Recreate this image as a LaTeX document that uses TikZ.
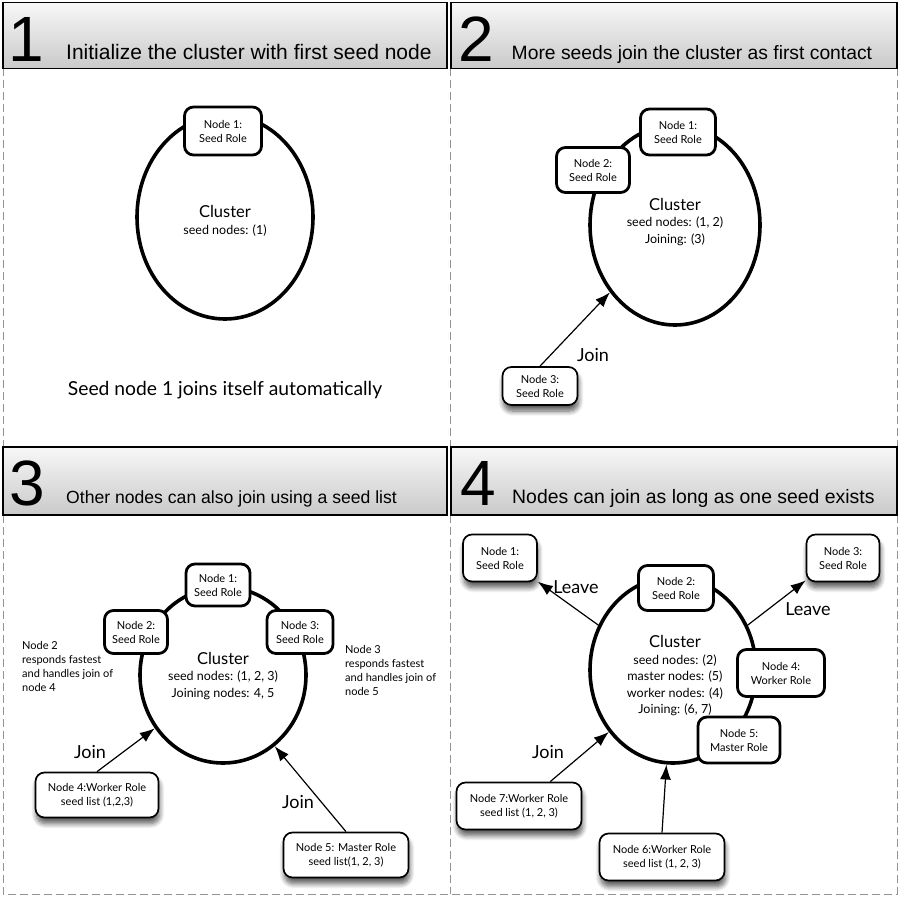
\documentclass[tikz,border=0pt]{standalone}
\usepackage{fontspec}
\setmainfont{Lato}
\newfontfamily\headfont{Liberation Sans}
\usetikzlibrary{arrows.meta,shapes.geometric,shadows.blur}
\begin{document}
\begin{tikzpicture}[x=1pt,y=-1pt]
		\tikzset{panelframe/.style = {draw=gray!85,line width=1pt,dash pattern=on 8pt off 4pt}}
		\tikzset{header/.style = {shape=rectangle,draw,line width=1.6pt,top color=gray!6,bottom color=gray!42,minimum height=66pt,inner sep=0pt}}
		\tikzset{bignum/.style = {font=\headfont\fontsize{64}{64}\selectfont,inner sep=0pt,anchor=base west}}
		\tikzset{headtitle/.style = {inner sep=0pt,anchor=base west}}
		\tikzset{cluster/.style = {shape=ellipse,draw,line width=3.6pt,inner sep=0pt}}
		\tikzset{ctext/.style = {align=center,font=\fontsize{12.5}{16.5}\selectfont}}
		\tikzset{member/.style = {shape=rectangle,draw,rounded corners=9pt,line width=2.8pt,fill=white,align=center,font=\fontsize{11}{14}\selectfont,minimum width=75pt,minimum height=46pt}}
		\tikzset{joiner/.style = {member,line width=1.7pt,blur shadow={shadow xshift=1pt,shadow yshift=-6pt,shadow blur radius=5pt,shadow blur steps=8,shadow opacity=65}}}
		\tikzset{sidenote/.style = {align=left,font=\fontsize{11}{14}\selectfont,inner sep=0pt,anchor=west}}
		\tikzset{lbl/.style = {font=\fontsize{18}{20}\selectfont,inner sep=0pt}}
		\tikzset{joinedge/.style = {-{Latex[length=15pt,width=11pt]},line width=1.2pt}}
		\newcommand{\headsize}[1]{\headfont\fontsize{#1}{24}\selectfont}
		\useasboundingbox (0,0) rectangle (900,901);
		% dashed panel borders
		\draw[panelframe] (3,68) -- (3,447);
		\draw[panelframe] (450,68) -- (450,447);
		\draw[panelframe] (897,68) -- (897,447);
		\draw[panelframe] (3,515) -- (3,894) -- (897,894) -- (897,515);
		\draw[panelframe] (450,515) -- (450,894);
		% headers
		\node[header,minimum width=444pt] (h1) at (225,35.5) {};
		\node[header,minimum width=446pt] (h2) at (674,35.5) {};
		\node[header,minimum width=444pt,minimum height=68pt] (h3) at (225,481) {};
		\node[header,minimum width=446pt,minimum height=68pt] (h4) at (674,481) {};
		\node[bignum] (h1num) at (8,62) {1};
		\node[bignum] (h2num) at (458,62) {2};
		\node[bignum] (h3num) at (9,505) {3};
		\node[bignum] (h4num) at (460,505) {4};
		\node[headtitle,font=\headsize{21}] (h1txt) at (66,59.5) {Initialize the cluster with first seed node};
		\node[headtitle,font=\headsize{19.3}] (h2txt) at (511.5,60) {More seeds join the cluster as first contact};
		\node[headtitle,font=\headsize{17.6}] (h3txt) at (66,503.5) {Other nodes can also join using a seed list};
		\node[headtitle,font=\headsize{19.4}] (h4txt) at (512,503.5) {Nodes can join as long as one seed exists};

		% panel 1
		\node[cluster,minimum width=176pt,minimum height=204pt] (c1) at (225,217) {};
		\node[ctext] (c1txt) at (225,221) {{\fontsize{16.5}{17}\selectfont Cluster}\\seed nodes: (1)};
		\node[member,minimum width=77pt,minimum height=48pt] (p1n1) at (223,131) {Node 1:\\Seed Role};
		\node[lbl,font=\fontsize{19.3}{22}\selectfont] (p1note) at (225,390) {Seed node 1 joins itself automatically};

		% panel 2
		\node[cluster,minimum width=170pt,minimum height=200pt] (c2) at (675,225) {};
		\node[ctext] (c2txt) at (675,222) {{\fontsize{16.5}{17}\selectfont Cluster}\\seed nodes: (1, 2)\\Joining: (3)};
		\node[member] (p2n1) at (678,132) {Node 1:\\Seed Role};
		\node[member,minimum width=73pt,minimum height=45pt] (p2n2) at (593,170) {Node 2:\\Seed Role};
		\node[joiner,minimum height=38pt] (p2n3) at (540,386) {Node 3:\\Seed Role};
		\draw[joinedge] (p2n3.north) -- (c2.226);
		\node[lbl] (p2join) at (593,355) {Join};

		% panel 3
		\node[cluster,minimum width=166pt,minimum height=176pt] (c3) at (223,675) {};
		\node[ctext] (c3txt) at (223,676) {{\fontsize{16.5}{17}\selectfont Cluster}\\seed nodes: (1, 2, 3)\\Joining nodes: 4, 5};
		\node[member,minimum width=64pt,minimum height=42pt] (p3n1) at (218,585) {Node 1:\\Seed Role};
		\node[member,minimum width=63pt,minimum height=43pt] (p3n2) at (136,632) {Node 2:\\Seed Role};
		\node[member,minimum width=66pt,minimum height=43pt] (p3n3) at (300,632) {Node 3:\\Seed Role};
		\node[sidenote] (p3note2) at (22,666) {Node 2\\responds fastest\\and handles join of\\node 4};
		\node[sidenote] (p3note3) at (345,670) {Node 3\\responds fastest\\and handles join of\\node 5};
		\node[joiner,minimum width=123pt,minimum height=45pt] (p3n4) at (97,795) {Node 4:Worker Role\\seed list (1,2,3)};
		\node[joiner,minimum width=125pt,minimum height=45pt] (p3n5) at (346,855) {Node 5: Master Role\\seed list(1, 2, 3)};
		\draw[joinedge] (p3n4.north) -- (c3.218);
		\draw[joinedge] (p3n5.north) -- (c3.306);
		\node[lbl] (p3join4) at (90,752) {Join};
		\node[lbl] (p3join5) at (298,802) {Join};

		% panel 4
		\node[cluster,minimum width=166pt,minimum height=186pt] (c4) at (673,670) {};
		\node[ctext] (c4txt) at (675,676) {{\fontsize{16.5}{17}\selectfont Cluster}\\seed nodes: (2)\\master nodes: (5)\\worker nodes: (4)\\Joining: (6, 7)};
		\node[member,minimum height=45pt] (p4n2) at (676,588) {Node 2:\\Seed Role};
		\node[member,minimum width=87pt,minimum height=47pt] (p4n4) at (781,673) {Node 4:\\Worker Role};
		\node[member,minimum width=82pt,minimum height=46pt] (p4n5) at (739,740) {Node 5:\\Master Role};
		\node[joiner,minimum width=74pt,minimum height=47pt] (p4n1) at (500,558) {Node 1:\\Seed Role};
		\node[joiner,minimum width=73pt,minimum height=47pt] (p4n3) at (843,558) {Node 3:\\Seed Role};
		\node[joiner,minimum width=125pt,minimum height=47pt] (p4n7) at (519,806) {Node 7:Worker Role\\seed list (1, 2, 3)};
		\node[joiner,minimum width=125pt,minimum height=47pt] (p4n6) at (662,857) {Node 6:Worker Role\\seed list (1, 2, 3)};
		\draw[joinedge] (c4.149) -- (p4n1.-32);
		\draw[joinedge] (c4.31) -- (p4n3.211);
		\draw[joinedge] (p4n7.38) -- (c4.224);
		\draw[joinedge] (p4n6.north) -- (c4.266);
		\node[lbl] (p4leave1) at (576,587) {Leave};
		\node[lbl] (p4leave3) at (808,609) {Leave};
		\node[lbl] (p4join) at (548,752) {Join};
	\end{tikzpicture}
\end{document}
